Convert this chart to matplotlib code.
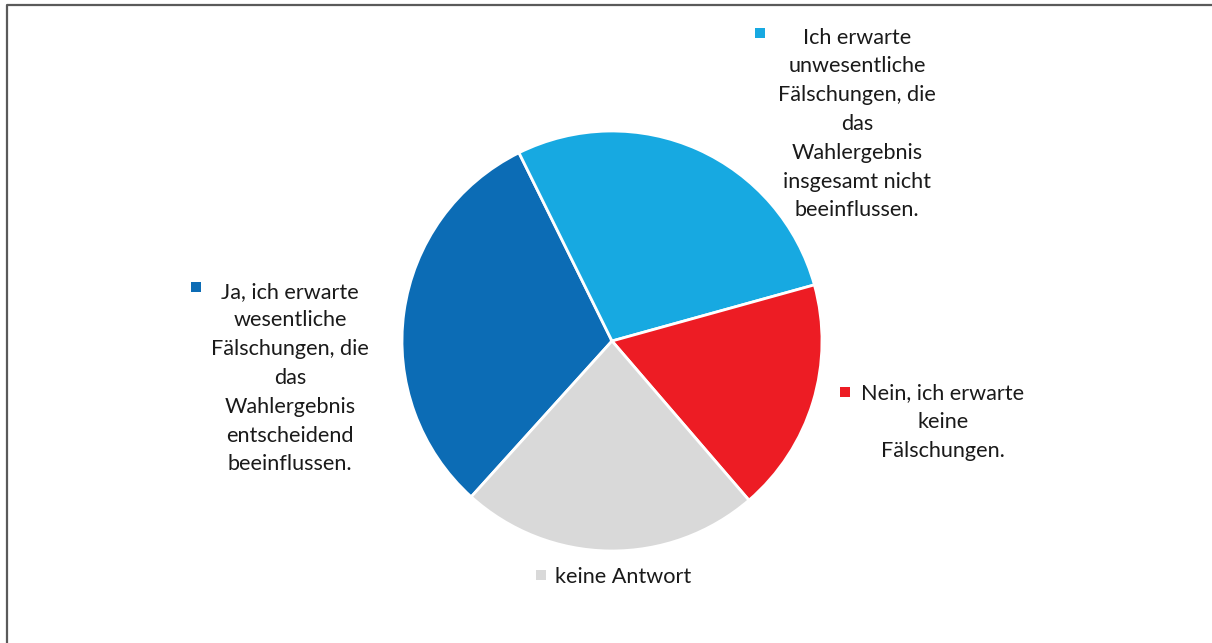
import matplotlib
matplotlib.use("Agg")
import matplotlib.pyplot as plt
from matplotlib.patches import Rectangle
from matplotlib.lines import Line2D

labels = [
    "Ja, ich erwarte\nwesentliche\nFälschungen, die\ndas\nWahlergebnis\nentscheidend\nbeeinflussen.",
    "Ich erwarte\nunwesentliche\nFälschungen, die\ndas\nWahlergebnis\ninsgesamt nicht\nbeeinflussen.",
    "Nein, ich erwarte\nkeine\nFälschungen.",
    "keine Antwort",
]
values = [31, 28, 18, 23]
colors = ["#0C6CB5", "#17A9E1", "#ED1C24", "#D9D9D9"]

W, H = 1212, 643
fig = plt.figure(figsize=(W / 100, H / 100), dpi=100)
plt.rcParams["font.family"] = ["Lato", "DejaVu Sans"]

# pie centered at (612, 341) px, radius 210 px
cx, cy, r = 612, 341, 210
ax = fig.add_axes([(cx - r) / W, (H - cy - r) / H, 2 * r / W, 2 * r / H])
ax.pie(values, colors=colors, startangle=-132.1, counterclock=False,
       wedgeprops=dict(edgecolor="white", linewidth=2))
ax.set_xlim(-1, 1)
ax.set_ylim(-1, 1)
ax.axis("off")

# label blocks: (text center x, block center y, marker x, marker y) in px
spots = [
    (290, 378, 196, 287),
    (857, 124, 760, 33),
    (943, 422, 845, 392),
    (623, 577, 541, 575),
]


def fx(x):
    return x / W


def fy(y):
    return 1 - y / H


for lab, col, (tx, ty, mx, my) in zip(labels, colors, spots):
    fig.text(fx(tx), fy(ty), lab, ha="center", va="center", multialignment="center",
             fontsize=15.6, linespacing=1.55, color="#1a1a1a")
    s = 10
    fig.patches.append(Rectangle((fx(mx - s / 2), fy(my + s / 2)), s / W, s / H,
                                 transform=fig.transFigure, facecolor=col,
                                 edgecolor="none"))

# frame lines on the left and top
fig.lines.append(Line2D([fx(7), fx(7), fx(W + 5)], [fy(H + 5), fy(4.5), fy(4.5)],
                        transform=fig.transFigure, color="#5a5a5a", linewidth=1.6))

fig.savefig("out.png", dpi=100)
